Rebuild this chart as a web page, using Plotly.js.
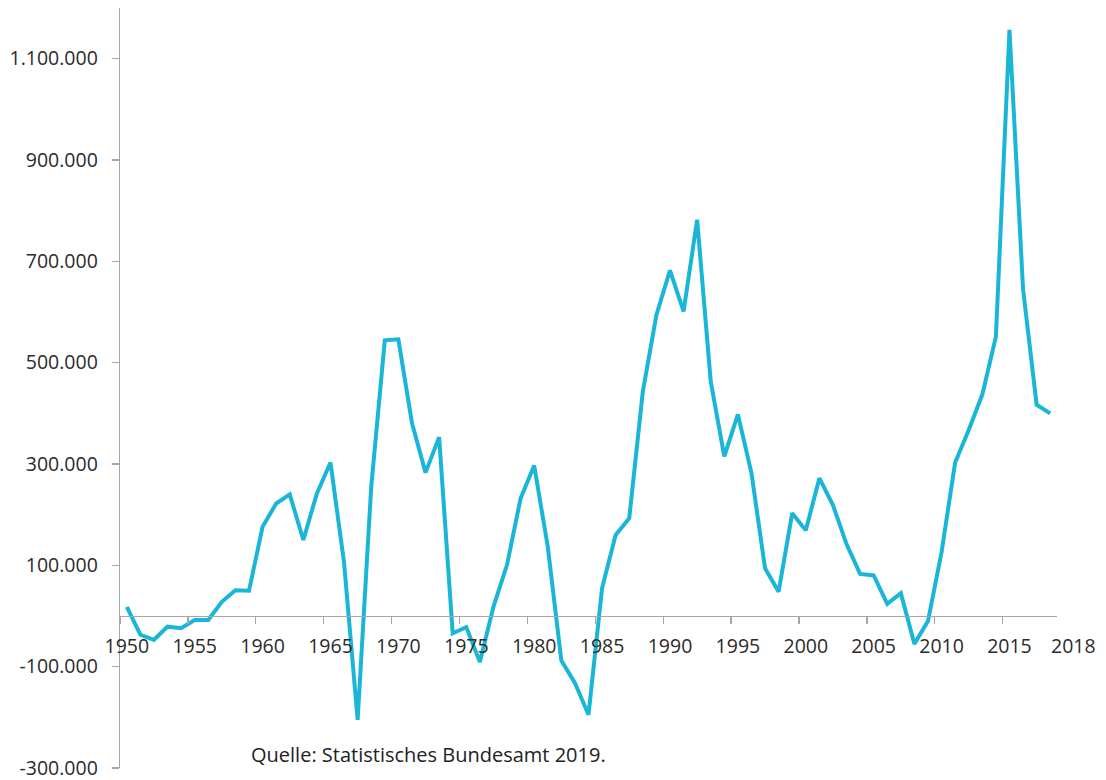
<!DOCTYPE html>
<html>
<head>
<meta charset="utf-8">
<script src="https://cdn.plot.ly/plotly-3.0.1.min.js"></script>
<style>
html,body{margin:0;padding:0;background:#fff;}
#chart{width:1106px;height:780px;}
</style>
</head>
<body>
<div id="chart"></div>
<script>
const years = [1950,1951,1952,1953,1954,1955,1956,1957,1958,1959,
  1960,1961,1962,1963,1964,1965,1966,1967,1968,1969,
  1970,1971,1972,1973,1974,1975,1976,1977,1978,1979,
  1980,1981,1982,1983,1984,1985,1986,1987,1988,1989,
  1990,1991,1992,1993,1994,1995,1996,1997,1998,1999,
  2000,2001,2002,2003,2004,2005,2006,2007,2008,2009,
  2010,2011,2012,2013,2014,2015,2016,2017,2018];
const saldo = [18000,-37000,-47000,-21000,-24000,-8000,-8000,28000,51000,50000,
  176000,222000,240000,150000,242000,303000,105000,-205000,255000,544000,
  546000,381000,283000,353000,-34000,-22000,-91000,18000,101000,232000,
  297000,137000,-88000,-132000,-195000,55000,160000,193000,443000,594000,
  682000,601000,782000,463000,315000,398000,282000,94000,48000,203000,
  169000,272000,219000,142000,83000,80000,24000,45000,-55000,-10000,
  126000,303000,367000,437000,551000,1157000,645000,417000,400000];
const xTickYears = [1950,1955,1960,1965,1970,1975,1980,1985,1990,1995,2000,2005,2010,2015];
const xTickLabels = ["1950","1955","1960","1965","1970","1975","1980","1985","1990","1995","2000","2005","2010","2015"];
const lastYearLabel = "2018";
const yTickVals = [-300000,-100000,100000,300000,500000,700000,900000,1100000];
const yTickLabels = ["-300.000","-100.000","100.000","300.000","500.000","700.000","900.000","1.100.000"];
const sourceNote = "Quelle: Statistisches Bundesamt 2019.";

const yMin = -300000, yMax = 1200000;
const zeroPos = (0 - yMin) / (yMax - yMin);
const xRange = [years[0] - 0.5, years[years.length - 1] + 0.5];
const xBoundaryTicks = xTickYears.map(v => v - 0.5);

const font = {family: "'Open Sans', sans-serif", size: 19.5, color: "#2b2b2b"};
const axisGray = "#a6a6a6";

const traces = [
  {
    x: years, y: saldo, type: "scatter", mode: "lines",
    line: {color: "#1ab6d8", width: 4},
    hoverinfo: "skip", showlegend: false, xaxis: "x", yaxis: "y"
  },
  {
    x: years, y: saldo, type: "scatter", mode: "lines",
    line: {color: "rgba(0,0,0,0)", width: 0},
    hoverinfo: "skip", showlegend: false, xaxis: "x2", yaxis: "y"
  }
];

const layout = {
  width: 1106, height: 780,
  margin: {l: 120, r: 49, t: 8, b: 12, pad: 0},
  paper_bgcolor: "#fff", plot_bgcolor: "#fff",
  font: font,
  showlegend: false,
  xaxis: {
    range: xRange, anchor: "free", position: zeroPos,
    tickmode: "array", tickvals: xBoundaryTicks,
    showticklabels: false, ticks: "outside", ticklen: 7, tickwidth: 1.3, tickcolor: axisGray,
    showline: true, linecolor: axisGray, linewidth: 1.3,
    showgrid: false, zeroline: false, fixedrange: true
  },
  xaxis2: {
    range: xRange, overlaying: "x", anchor: "free", position: zeroPos,
    tickmode: "array", tickvals: xTickYears, ticktext: xTickLabels, tickangle: 0,
    ticks: "", showline: false, showgrid: false, zeroline: false,
    tickfont: font, ticklabelstandoff: 16, ticklabeloverflow: "allow", fixedrange: true
  },
  yaxis: {
    range: [yMin, yMax],
    tickmode: "array", tickvals: yTickVals, ticktext: yTickLabels,
    ticks: "outside", ticklen: 7, tickwidth: 1.3, tickcolor: axisGray,
    showline: true, linecolor: axisGray, linewidth: 1.3,
    showgrid: false, zeroline: false, tickfont: font, ticklabelstandoff: 10,
    ticklabeloverflow: "allow", fixedrange: true
  },
  annotations: [
    {
      xref: "paper", yref: "paper", x: 0.138, y: 0.018,
      xanchor: "left", yanchor: "middle", showarrow: false,
      text: sourceNote, font: {family: "'Open Sans', sans-serif", size: 20, color: "#222"}
    },
    {
      xref: "x", yref: "y", x: years[years.length - 1], y: 0,
      xanchor: "left", yanchor: "middle", xshift: -1, yshift: -29,
      showarrow: false, text: lastYearLabel, font: font
    }
  ]
};

Plotly.newPlot("chart", traces, layout, {displayModeBar: false, staticPlot: true});
</script>
</body>
</html>
